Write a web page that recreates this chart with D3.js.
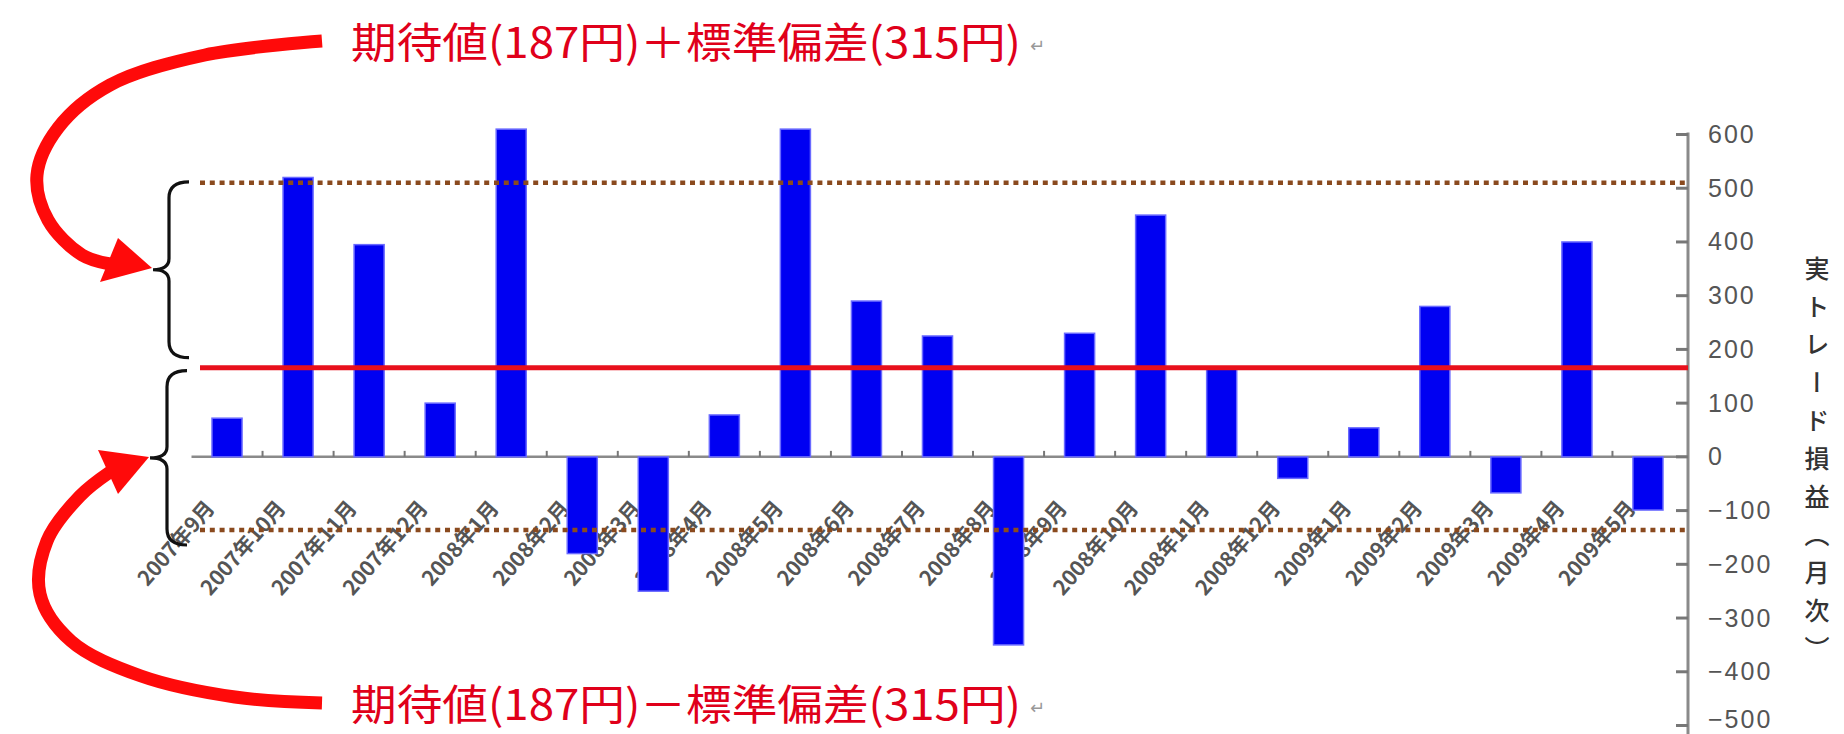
<!DOCTYPE html>
<html><head><meta charset="utf-8">
<script src="https://cdn.jsdelivr.net/npm/d3@7"></script>
<style>
html,body{margin:0;padding:0;background:#fff;}
svg{display:block;}
</style></head>
<body>
<svg id="chart" width="1844" height="734"></svg>
<script>
// ---- data ----
const months = ["2007年9月","2007年10月","2007年11月","2007年12月","2008年1月","2008年2月","2008年3月","2008年4月","2008年5月","2008年6月","2008年7月","2008年8月","2008年9月","2008年10月","2008年11月","2008年12月","2009年1月","2009年2月","2009年3月","2009年4月","2009年5月"];
const profits = [72, 520, 395, 100, 610, -180, -250, 78, 610, 290, 225, -350, 230, 450, 165, -40, 54, 280, -67, 400, -99];
const yTicks = [600, 500, 400, 300, 200, 100, 0, -100, -200, -300, -400, -500];
const meanLine = 166;
const upperLine = 510;
const lowerLine = -136;
const upperNote = "期待値(187円)＋標準偏差(315円)";
const lowerNote = "期待値(187円)－標準偏差(315円)";
const axisTitle = "実トレード損益（月次）";

// ---- layout ----
const svg = d3.select("#chart");
const x = d3.scaleBand().domain(months).range([191.5, 1683.5]).paddingInner(0.577).paddingOuter(0.2885);
const y = d3.scaleLinear().domain([-500, 600]).range([725.5, 134.5]);
const axisX = 1688;
const lineStart = 200;

// x labels (drawn first, bars overlap them)
svg.append("g").selectAll("text").data(months).join("text")
  .attr("transform", d => `translate(${x(d) + x.bandwidth()/2 - 18},${503}) rotate(-49)`)
  .attr("text-anchor", "end")
  .attr("dominant-baseline", "central")
  .attr("font-family", "'Noto Sans CJK JP', sans-serif")
  .attr("font-weight", 700)
  .attr("font-size", 21)
  .attr("fill", "#555")
  .text(d => d);

// zero line
svg.append("line").attr("x1", x.range()[0]).attr("x2", axisX).attr("y1", y(0)).attr("y2", y(0))
  .attr("stroke", "#8a8a8a").attr("stroke-width", 2.5);
// category ticks
svg.append("g").selectAll("line").data(months.slice(1)).join("line")
  .attr("x1", d => x(d) - (x.step() - x.bandwidth())/2).attr("x2", d => x(d) - (x.step() - x.bandwidth())/2)
  .attr("y1", y(0) - 6).attr("y2", y(0))
  .attr("stroke", "#777").attr("stroke-width", 2);

// bars
svg.append("g").selectAll("rect").data(profits).join("rect")
  .attr("x", (d, i) => x(months[i]))
  .attr("width", x.bandwidth())
  .attr("y", d => y(Math.max(0, d)))
  .attr("height", d => Math.abs(y(d) - y(0)))
  .attr("fill", "#0000f2")
  .attr("stroke", "#6a6aff").attr("stroke-width", 1.5);

// y axis (right)
const yAxis = d3.axisRight(y).tickValues(yTicks).tickSize(0).tickPadding(20).tickFormat(d3.format("d"));
const gy = svg.append("g").attr("transform", `translate(${axisX},0)`).call(yAxis);
gy.select(".domain").remove();
gy.selectAll("text").attr("font-family", "'Liberation Sans', Arial, sans-serif").attr("font-size", 25)
  .attr("fill", "#555").attr("letter-spacing", 2).attr("text-anchor", "start");
// keep the bottom label inside the picture
gy.selectAll(".tick").filter(d => d === -500).select("text").attr("dy", "0.08em");
svg.append("line").attr("x1", axisX).attr("x2", axisX).attr("y1", y(600) - 2).attr("y2", 734)
  .attr("stroke", "#8a8a8a").attr("stroke-width", 3);
svg.append("g").selectAll("line").data(yTicks).join("line")
  .attr("x1", axisX - 12).attr("x2", axisX).attr("y1", d => y(d)).attr("y2", d => y(d))
  .attr("stroke", "#777").attr("stroke-width", 3);

// axis title, vertical
const tChars = Array.from(axisTitle);
svg.append("g").selectAll("text").data(tChars).join("text")
  .attr("x", 1817)
  .attr("y", (d, i) => 268 + i * 38)
  .attr("text-anchor", "middle")
  .attr("dominant-baseline", "central")
  .attr("font-family", "'Noto Sans CJK JP', sans-serif")
  .attr("font-size", 25)
  .attr("font-weight", 500)
  .attr("fill", "#333")
  .style("writing-mode", "vertical-rl")
  .text(d => d);

// reference lines
function refLine(v, color, w, dash) {
  const l = svg.append("line").attr("x1", lineStart).attr("x2", axisX).attr("y1", y(v)).attr("y2", y(v))
    .attr("stroke", color).attr("stroke-width", w);
  if (dash) l.attr("stroke-dasharray", dash);
}
refLine(upperLine, "#8a4a1e", 4.5, "5,4.8");
refLine(lowerLine, "#8a4a1e", 4.5, "5,4.8");
refLine(meanLine, "#e8101c", 5, null);

// braces
function brace(xs, top, bot, tipX) {
  const mid = (top + bot) / 2;
  const xv = xs, r = 16;
  const p = d3.path();
  p.moveTo(xv + 20, top);
  p.quadraticCurveTo(xv, top, xv, top + r);
  p.lineTo(xv, mid - r * 0.7);
  p.quadraticCurveTo(xv, mid, tipX, mid);
  p.quadraticCurveTo(xv, mid, xv, mid + r * 0.7);
  p.lineTo(xv, bot - r);
  p.quadraticCurveTo(xv, bot, xv + 20, bot);
  svg.append("path").attr("d", p.toString()).attr("fill", "none").attr("stroke", "#111").attr("stroke-width", 3.2);
}
brace(169, y(upperLine) - 1, y(meanLine) - 10, 153);
brace(167, y(meanLine) + 3, 545, 150);

// red curved arrows
const curve = d3.line().curve(d3.curveCatmullRom.alpha(0.5));
function arrow(pts, head) {
  svg.append("path").attr("d", curve(pts)).attr("fill", "none").attr("stroke", "#ff0a0a")
    .attr("stroke-width", 13).attr("stroke-linecap", "butt");
  svg.append("path").attr("d", "M" + head.join("L") + "Z").attr("fill", "#ff0a0a");
}
arrow([[322,41],[205,55],[110,85],[58,128],[37,175],[48,220],[82,255],[110,264]],
      [[118,238],[152,268],[100,282]]);
arrow([[322,703],[235,697],[141,676],[71,641],[40,594],[47,541],[80,496],[110,472]],
      [[98,450],[149,457],[118,494]]);

// notes
function note(txt, cy) {
  svg.append("text").attr("x", 351).attr("y", cy).attr("dominant-baseline", "central")
    .attr("font-family", "'Noto Sans CJK JP', sans-serif").attr("font-size", 42)
    .attr("fill", "#e0001a").attr("textLength", 670).attr("lengthAdjust", "spacingAndGlyphs")
    .text(txt);
  svg.append("text").attr("x", 1030).attr("y", cy + 6).attr("dominant-baseline", "central")
    .attr("font-family", "'DejaVu Sans', sans-serif").attr("font-size", 18).attr("fill", "#999").text("↵");
}
note(upperNote, 39);
note(lowerNote, 701);
</script>
</body></html>
